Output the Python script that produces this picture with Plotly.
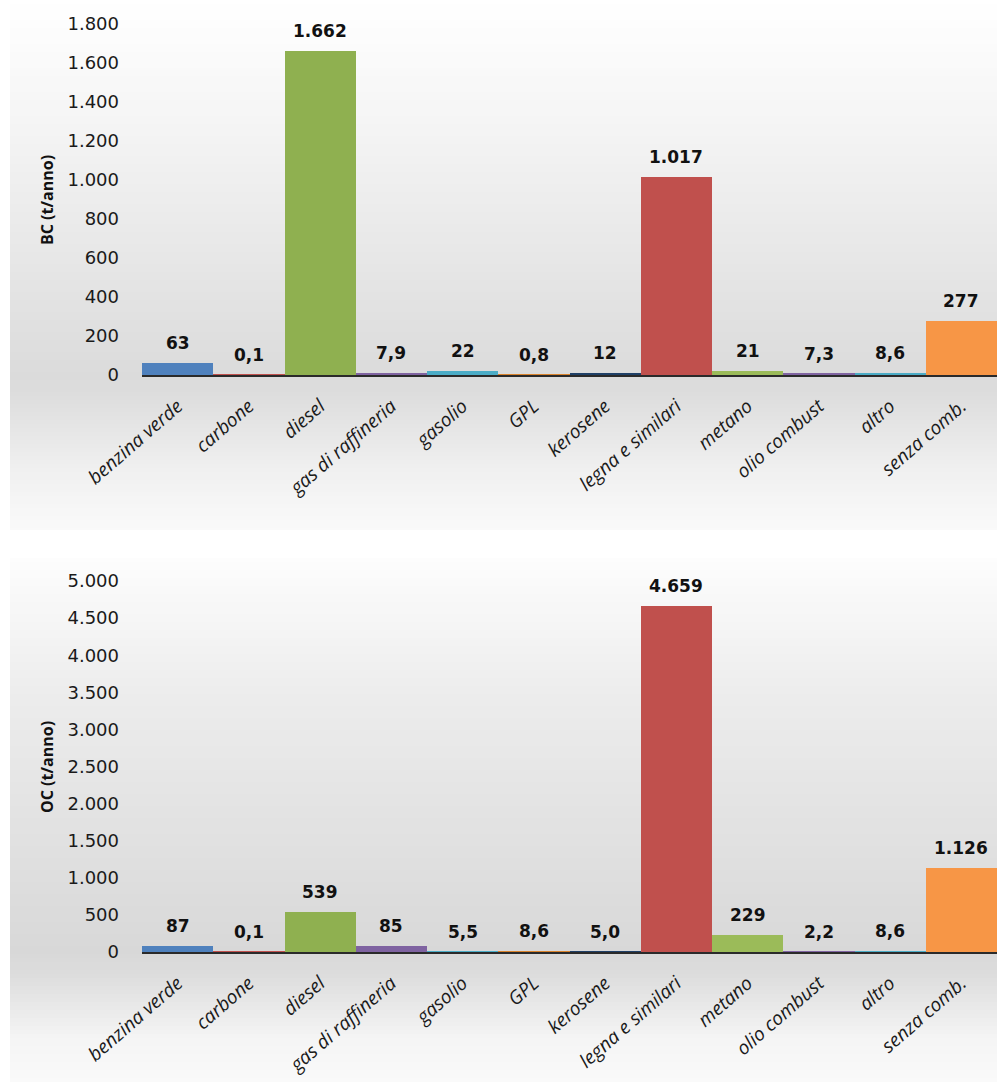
import plotly.graph_objects as go

# Emission sources (Italian category names)
categories = ["benzina verde", "carbone", "diesel", "gas di raffineria", "gasolio", "GPL",
              "kerosene", "legna e similari", "metano", "olio combust", "altro", "senza comb."]

# Black carbon and organic carbon emissions, t/anno
bc_values = [63, 0.1, 1662, 7.9, 22, 0.8, 12, 1017, 21, 7.3, 8.6, 277]
oc_values = [87, 0.1, 539, 85, 5.5, 8.6, 5.0, 4659, 229, 2.2, 8.6, 1126]

bar_colors = ["#4f81bd", "#c0504d", "#8fb050", "#7f63a1", "#4bacc6", "#d9822b",
              "#1f3f66", "#c0504d", "#9bbb59", "#8064a2", "#4bacc6", "#f79646"]

W, H = 997, 1082


def fmt(v):
    """Italian style number: comma decimals, dot thousands."""
    if v < 10:
        return f"{v:.1f}".replace(".", ",")
    return f"{int(round(v)):,}".replace(",", ".")


def py(px):
    return 1 - px / H


fig = go.Figure()

fig.add_trace(go.Bar(x=categories, y=bc_values, marker=dict(color=bar_colors, line=dict(width=0)),
                     xaxis="x", yaxis="y", hoverinfo="x+y"))
fig.add_trace(go.Bar(x=categories, y=oc_values, marker=dict(color=bar_colors, line=dict(width=0)),
                     xaxis="x2", yaxis="y2", hoverinfo="x+y"))

label_font = dict(family="DejaVu Sans", size=17, color="#111111")
annotations = []
for c, v in zip(categories, bc_values):
    annotations.append(dict(x=c, y=v, xref="x", yref="y", text=f"<b>{fmt(v)}</b>",
                            showarrow=False, yanchor="bottom", yshift=8, font=label_font))
for c, v in zip(categories, oc_values):
    annotations.append(dict(x=c, y=v, xref="x2", yref="y2", text=f"<b>{fmt(v)}</b>",
                            showarrow=False, yanchor="bottom", yshift=8, font=label_font))

# Axis titles
title_font = dict(family="Open Sans", size=16, color="#111111")
annotations.append(dict(x=47 / W, y=py(200), xref="paper", yref="paper", text="<b>BC (t/anno)</b>",
                        textangle=-90, showarrow=False, xanchor="center", yanchor="middle",
                        font=title_font))
annotations.append(dict(x=47 / W, y=py(767), xref="paper", yref="paper", text="<b>OC (t/anno)</b>",
                        textangle=-90, showarrow=False, xanchor="center", yanchor="middle",
                        font=title_font))


def lerp_color(stops, y):
    for (y0, c0), (y1, c1) in zip(stops, stops[1:]):
        if y0 <= y <= y1:
            t = (y - y0) / (y1 - y0) if y1 > y0 else 0
            g = round(c0 + (c1 - c0) * t)
            return f"rgb({g},{g},{g})"
    g = stops[-1][1]
    return f"rgb({g},{g},{g})"


# Vertical grey gradient behind each chart panel
shapes = []
panels = [
    (0, 530, [(0, 255), (120, 245), (375, 219), (395, 221), (470, 240), (530, 250)]),
    (558, 1082, [(558, 253), (700, 236), (952, 216), (975, 221), (1040, 245), (1082, 250)]),
]
step = 4
for top, bottom, stops in panels:
    y = top
    while y < bottom:
        y2 = min(y + step, bottom)
        shapes.append(dict(type="rect", xref="paper", yref="paper", layer="below",
                           x0=10 / W, x1=1, y0=py(y2), y1=py(y),
                           fillcolor=lerp_color(stops, (y + y2) / 2), line=dict(width=0)))
        y = y2

tick_font = dict(family="DejaVu Sans", size=18, color="#1a1a1a")
xtick_font = dict(family="Open Sans", size=19, color="#1a1a1a", style="italic")

xaxis_common = dict(range=[-0.5, 11.5], tickangle=-41, showgrid=False, ticks="",
                    showline=True, linecolor="#2a2a2a", linewidth=1.5, automargin=False,
                    tickfont=xtick_font, ticklabelstandoff=11, fixedrange=True)
yaxis_common = dict(showgrid=False, zeroline=False, showline=False, ticks="", automargin=False,
                    tickfont=tick_font, ticklabelstandoff=22, tickformat=",d", fixedrange=True)

fig.update_layout(
    width=W, height=H,
    margin=dict(l=0, r=0, t=0, b=0, autoexpand=False),
    paper_bgcolor="white",
    plot_bgcolor="rgba(0,0,0,0)",
    separators=",.",
    bargap=0,
    showlegend=False,
    shapes=shapes,
    annotations=annotations,
    xaxis=dict(domain=[142 / W, 1], anchor="y", **xaxis_common),
    xaxis2=dict(domain=[142 / W, 1], anchor="y2", **xaxis_common),
    yaxis=dict(domain=[py(375), py(24)], range=[0, 1800], dtick=200, anchor="x", **yaxis_common),
    yaxis2=dict(domain=[py(952), py(581)], range=[0, 5000], dtick=500, anchor="x2", **yaxis_common),
)

fig.write_html("out.html")
